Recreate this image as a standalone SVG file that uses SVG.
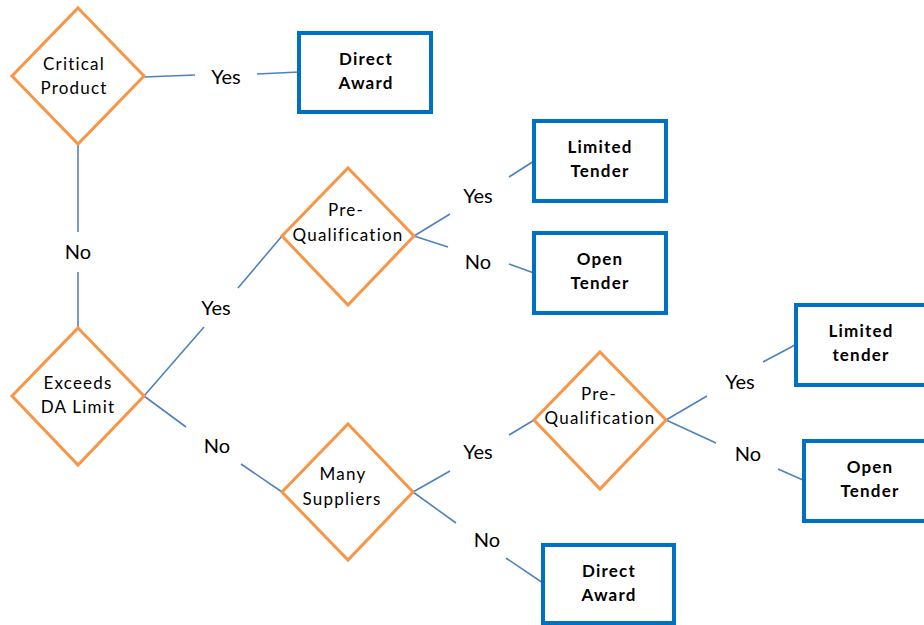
<svg xmlns="http://www.w3.org/2000/svg" width="924" height="625" viewBox="0 0 924 625">
<style>
.dia{fill:#fff;stroke:#F79646;stroke-width:3}
.box{fill:#fff;stroke:#0070C0;stroke-width:4}
.con{stroke:#4F81BD;stroke-width:1.6;fill:none}
.dt{font-family:Lato,"Liberation Sans",sans-serif;font-size:17px;letter-spacing:1.2px;fill:#000;text-anchor:middle}
.bt{font-family:Lato,"Liberation Sans",sans-serif;font-size:17px;letter-spacing:1.2px;font-weight:bold;fill:#000;text-anchor:middle}
.el{font-family:Lato,"Liberation Sans",sans-serif;font-size:20px;fill:#000;text-anchor:middle}
</style>
<rect width="924" height="625" fill="#fff"/>
<g id="connectors">
<path class="con" d="M144,77 L195,75"/>
<path class="con" d="M257,74 L299,72"/>
<path class="con" d="M78,144 L78,232"/>
<path class="con" d="M78,272 L78,328"/>
<path class="con" d="M144,396 L204,327"/>
<path class="con" d="M238,288 L282,236"/>
<path class="con" d="M144,396 L186,427"/>
<path class="con" d="M241,464 L282,492"/>
<path class="con" d="M414,236 L450,214"/>
<path class="con" d="M509,177 L534,161"/>
<path class="con" d="M414,236 L448,247"/>
<path class="con" d="M509,264 L534,273"/>
<path class="con" d="M413,492 L450,471"/>
<path class="con" d="M509,435 L534,420"/>
<path class="con" d="M413,492 L456,523"/>
<path class="con" d="M506,558 L543,583"/>
<path class="con" d="M666,420 L707,396"/>
<path class="con" d="M763,362 L795,345"/>
<path class="con" d="M666,420 L716,443"/>
<path class="con" d="M778,469 L803,480"/>
<text class="el" x="226" y="84">Yes</text>
<text class="el" x="78" y="259">No</text>
<text class="el" x="216" y="315">Yes</text>
<text class="el" x="217" y="453">No</text>
<text class="el" x="478" y="203">Yes</text>
<text class="el" x="478" y="269">No</text>
<text class="el" x="478" y="459">Yes</text>
<text class="el" x="487" y="547">No</text>
<text class="el" x="740" y="389">Yes</text>
<text class="el" x="748" y="461">No</text>
</g>
<g id="critical">
<polygon class="dia" points="78,8 144,76 78,144 12,76"/>
<text class="dt" x="74" y="70">Critical</text>
<text class="dt" x="74" y="94">Product</text>
</g>
<g id="direct1">
<rect class="box" x="299" y="33" width="132" height="79"/>
<text class="bt" x="366" y="65">Direct</text>
<text class="bt" x="366" y="89">Award</text>
</g>
<g id="exceeds">
<polygon class="dia" points="78,328 144,396 78,465 12,396"/>
<text class="dt" x="78" y="389">Exceeds</text>
<text class="dt" x="78" y="413">DA Limit</text>
</g>
<g id="prequal1">
<polygon class="dia" points="348,168 414,236 348,305 282,236"/>
<text class="dt" x="346" y="216">Pre-</text>
<text class="dt" x="348" y="241">Qualification</text>
</g>
<g id="limited1">
<rect class="box" x="534" y="121" width="132" height="80"/>
<text class="bt" x="600" y="153">Limited</text>
<text class="bt" x="600" y="177">Tender</text>
</g>
<g id="open1">
<rect class="box" x="534" y="233" width="132" height="80"/>
<text class="bt" x="600" y="265">Open</text>
<text class="bt" x="600" y="289">Tender</text>
</g>
<g id="suppliers">
<polygon class="dia" points="348,424 413,492 348,560 282,492"/>
<text class="dt" x="343" y="480">Many</text>
<text class="dt" x="342" y="505">Suppliers</text>
</g>
<g id="prequal2">
<polygon class="dia" points="600,352 666,420 600,489 534,420"/>
<text class="dt" x="599" y="400">Pre-</text>
<text class="dt" x="600" y="424">Qualification</text>
</g>
<g id="limited2">
<rect class="box" x="796" y="305" width="132" height="80"/>
<text class="bt" x="861" y="337">Limited</text>
<text class="bt" x="861" y="361">tender</text>
</g>
<g id="open2">
<rect class="box" x="804" y="441" width="132" height="80"/>
<text class="bt" x="870" y="473">Open</text>
<text class="bt" x="870" y="497">Tender</text>
</g>
<g id="direct2">
<rect class="box" x="543" y="545" width="131" height="78"/>
<text class="bt" x="609" y="577">Direct</text>
<text class="bt" x="609" y="601">Award</text>
</g>
</svg>
